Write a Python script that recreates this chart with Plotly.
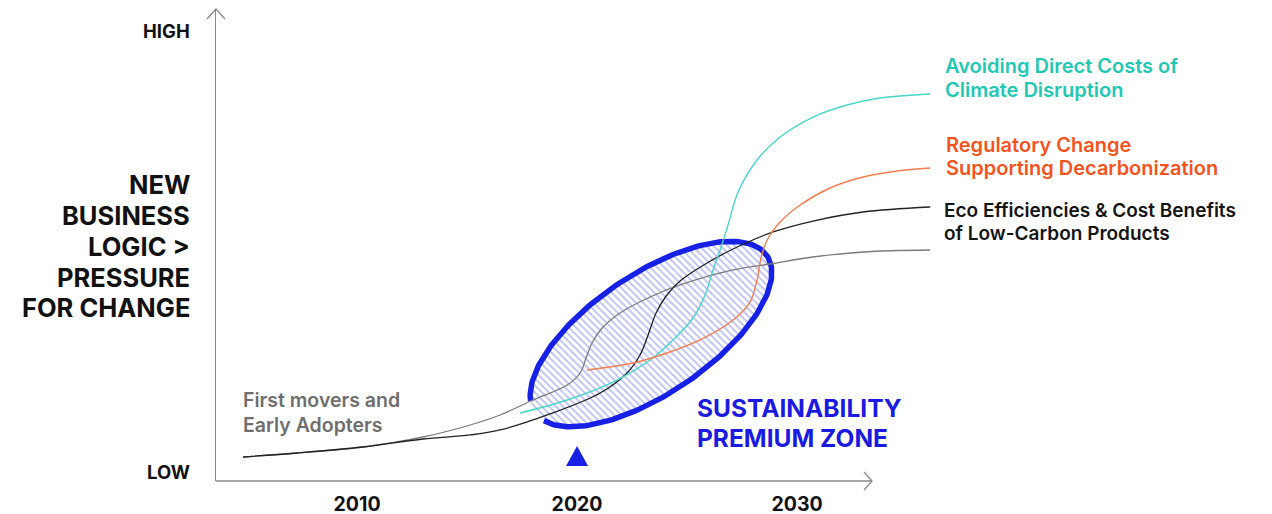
import numpy as np
import plotly.graph_objects as go

# ---------------- data ----------------
# x = year, y = pressure level on a 0-100 scale (LOW=0, HIGH=100)
tick_years = [2010, 2020, 2030]
tick_text = ["2010", "2020", "2030"]

first_movers_years = [2004.82, 2007.27, 2010.27, 2013.0, 2015.14, 2016.5, 2018.0, 2019.55, 2020.14,
                      2020.41, 2020.68, 2021.14, 2021.95, 2023.32, 2024.82, 2027.09, 2028.77, 2030.73,
                      2033.0, 2036.05]
first_movers_level = [5.10, 5.94, 7.22, 9.34, 11.89, 14.01, 17.2, 20.38, 22.93,
                      26.11, 29.3, 32.48, 35.67, 39.07, 41.83, 44.8, 46.07, 47.56,
                      48.62, 49.04]

eco_years = [2004.82, 2007.27, 2010.27, 2013.0, 2015.14, 2016.5, 2018.77, 2021.05, 2022.27, 2022.86,
             2023.23, 2023.59, 2024.05, 2024.68, 2025.91, 2027.09, 2028.91, 2030.73, 2033.0, 2036.05]
eco_level = [5.10, 5.94, 7.22, 8.92, 9.77, 10.83, 14.23, 18.68, 22.93, 26.75,
             31.0, 35.67, 39.28, 42.46, 46.28, 49.26, 52.87, 55.2, 57.11, 58.17]

climate_years = [2017.41, 2019.55, 2021.82, 2023.32, 2024.36, 2025.27, 2025.82, 2026.18, 2026.5,
                 2026.86, 2027.32, 2028.18, 2029.23, 2030.73, 2032.27, 2033.77, 2036.05]
climate_level = [14.44, 17.2, 21.44, 25.69, 29.94, 34.61, 39.49, 44.8, 49.04,
                 54.35, 61.36, 68.15, 73.04, 77.28, 79.83, 81.32, 82.17]

regulatory_years = [2020.45, 2022.55, 2024.09, 2025.59, 2027.09, 2027.86, 2028.18, 2028.36, 2028.64,
                    2029.23, 2030.14, 2031.5, 2033.0, 2034.55, 2036.05]
regulatory_level = [23.57, 25.05, 27.18, 29.94, 34.18, 38.0, 42.68, 47.35, 51.17,
                    54.99, 58.6, 62.21, 64.54, 65.82, 66.45]

marker_year = [2020]
marker_level = [5.3]

# sustainability premium zone (tilted ellipse)
zone_center = (2023.36, 31.2)     # year, level
zone_half_len_px = 140
zone_half_wid_px = 60
zone_tilt_deg = 34

# ---------------- layout geometry ----------------
W, H = 1272, 514
ML, MR, MT, MB = 216, 322, 10, 33
PW, PH = W - ML - MR, H - MT - MB
X_RANGE = [2003.59, 2036.95]
Y_RANGE = [0, 100]
PX_PER_YEAR = PW / (X_RANGE[1] - X_RANGE[0])
PX_PER_LEVEL = PH / (Y_RANGE[1] - Y_RANGE[0])


def paper(px, py):
    return (px - ML) / PW, (H - MB - py) / PH


FONT = "Inter, 'Open Sans', sans-serif"
BLUE = "#1721e6"

# ellipse in data units
th = np.radians(zone_tilt_deg)


def ellipse_pts(t):
    dx = zone_half_len_px * np.cos(t) * np.cos(th) - zone_half_wid_px * np.sin(t) * np.sin(th)
    dy = zone_half_len_px * np.cos(t) * np.sin(th) + zone_half_wid_px * np.sin(t) * np.cos(th)
    return zone_center[0] + dx / PX_PER_YEAR, zone_center[1] + dy / PX_PER_LEVEL


t_full = np.linspace(0, 2 * np.pi, 240)
ex, ey = ellipse_pts(t_full)
t_out = np.linspace(np.pi + 0.2, 3 * np.pi - 0.2, 240)
ox, oy = ellipse_pts(t_out)

fig = go.Figure()
fig.add_trace(go.Scatter(x=ex, y=ey, mode="lines", fill="toself", line=dict(width=0),
                         fillcolor="rgba(255,255,255,0)",
                         fillpattern=dict(shape="\\", fgcolor="#7d85e8", bgcolor="rgba(255,255,255,0)",
                                          size=5, solidity=0.38),
                         hoverinfo="skip", showlegend=False))
fig.add_trace(go.Scatter(x=ox, y=oy, mode="lines", line=dict(color=BLUE, width=5.5),
                         hoverinfo="skip", showlegend=False))

curves = [
    (first_movers_years, first_movers_level, "#7a7a7a", 1.3),
    (eco_years, eco_level, "#222222", 1.3),
    (climate_years, climate_level, "#48d6c8", 1.4),
    (regulatory_years, regulatory_level, "#f47e4e", 1.4),
]
for xs, ys, col, w in curves:
    fig.add_trace(go.Scatter(x=xs, y=ys, mode="lines", line=dict(color=col, width=w, shape="spline", smoothing=1.0),
                             hoverinfo="skip", showlegend=False))

# axes arrows
ax_col = "#8a8a8a"
shapes = []
x0, y0 = paper(216, 481)
x1, _ = paper(872, 481)
shapes.append(dict(type="line", xref="paper", yref="paper", x0=x0, y0=y0, x1=x1, y1=y0,
                   line=dict(color=ax_col, width=1.3)))
a1, b1 = paper(864, 472)
a2, b2 = paper(872, 481)
a3, b3 = paper(864, 490)
shapes.append(dict(type="path", xref="paper", yref="paper",
                   path=f"M {a1} {b1} L {a2} {b2} L {a3} {b3}", line=dict(color=ax_col, width=1.3)))
a1, b1 = paper(207, 19)
a2, b2 = paper(216, 9)
a3, b3 = paper(225, 19)
shapes.append(dict(type="path", xref="paper", yref="paper",
                   path=f"M {a1} {b1} L {a2} {b2} L {a3} {b3}", line=dict(color=ax_col, width=1.3)))

# 2020 marker triangle, anchored at the data point, sized in pixels
shapes.append(dict(type="path", xref="x", yref="y", xsizemode="pixel", ysizemode="pixel",
                   xanchor=marker_year[0], yanchor=marker_level[0],
                   path="M -11 -10 L 11 -10 L 0 10 Z", fillcolor=BLUE, line=dict(width=0)))

annotations = []


def ann(lines, px, ys, color, size, weight, xanchor="left"):
    for line, py in zip(lines, ys):
        x, y = paper(px, py)
        annotations.append(dict(text=line, x=x, y=y, xref="paper", yref="paper", xanchor=xanchor,
                                yanchor="middle", showarrow=False,
                                font=dict(family=FONT, size=size, color=color, weight=weight)))


ann(["HIGH"], 192, [31], "#111111", 18.5, 700, "right")
ann(["LOW"], 192, [472], "#111111", 18.5, 700, "right")
ann(["NEW", "BUSINESS", "LOGIC >", "PRESSURE", "FOR CHANGE"], 192, [184, 215, 246, 277, 307],
    "#111111", 25.5, 700, "right")
ann(["First movers and", "Early Adopters"], 241, [400, 425], "#6e6e6e", 19.5, 600)
ann(["SUSTAINABILITY", "PREMIUM ZONE"], 695, [408, 438], "#1a1ae0", 24.5, 700)
ann(["Avoiding Direct Costs of", "Climate Disruption"], 943, [66, 90], "#1fc8b4", 20, 600)
ann(["Regulatory Change", "Supporting Decarbonization"], 944, [145, 168], "#f3541e", 20, 600)
ann(["Eco Efficiencies &amp; Cost Benefits", "of Low-Carbon Products"], 942, [210, 233], "#141414", 19, 600)

fig.update_layout(
    width=W, height=H,
    margin=dict(l=ML, r=MR, t=MT, b=MB),
    paper_bgcolor="white", plot_bgcolor="white",
    xaxis=dict(range=X_RANGE, tickvals=tick_years, ticktext=tick_text, showgrid=False, zeroline=False,
               showline=False, ticks="", ticklabelstandoff=9, automargin=False,
               tickfont=dict(family=FONT, size=19.5, color="#111111", weight=700)),
    yaxis=dict(range=Y_RANGE, showgrid=False, zeroline=False, showticklabels=False, automargin=False,
               showline=True, linecolor=ax_col, linewidth=1.3, ticks=""),
    shapes=shapes, annotations=annotations, showlegend=False,
)

fig.write_html("out.html")
